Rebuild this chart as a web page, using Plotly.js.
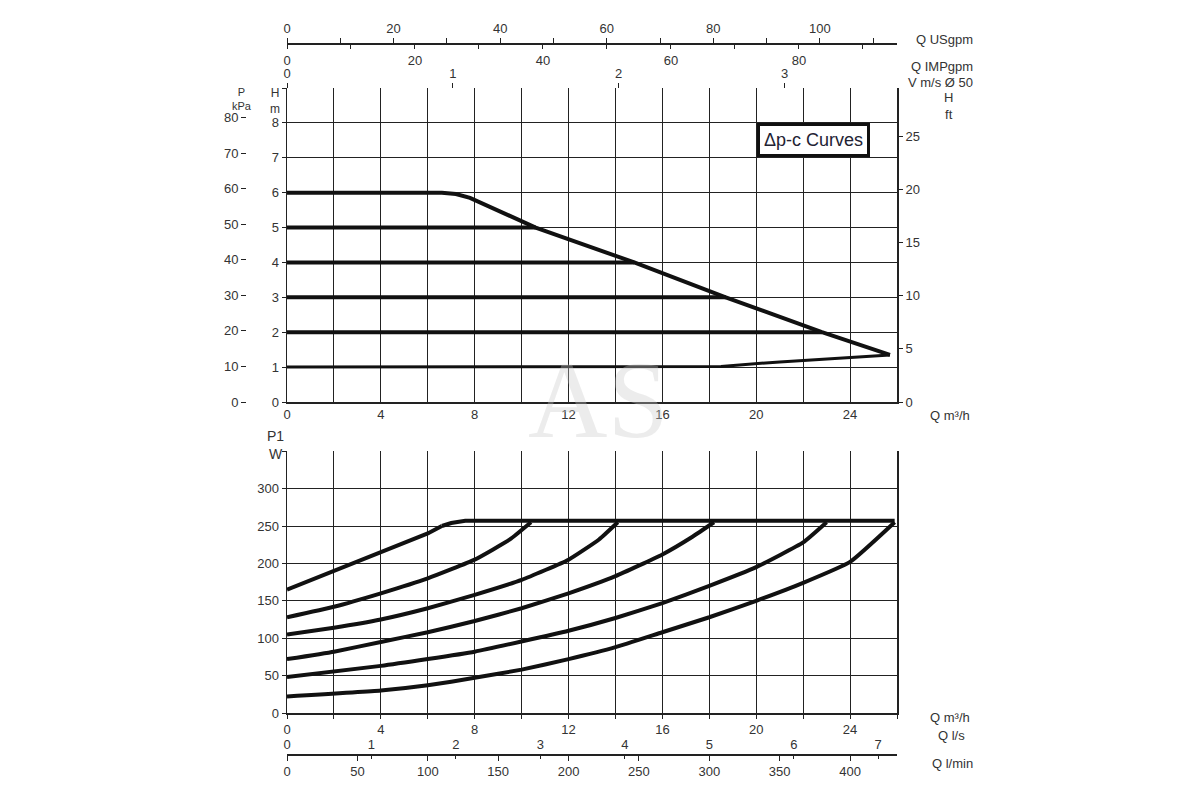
<!DOCTYPE html>
<html><head><meta charset="utf-8">
<script src="https://cdn.plot.ly/plotly-3.0.1.min.js"></script>
<style>body{margin:0;background:#fff}</style></head>
<body><div id="c" style="width:1200px;height:800px"></div>
<script>
// ---- data ----
const qGrid = [0,2,4,6,8,10,12,14,16,18,20,22,24,26];
const qLabels = ['0','','4','','8','','12','','16','','20','','24',''];
// Head curves (Q m3/h, H m)
const hMaxQ = [0, 6.6, 7.2, 7.8, 10.6, 14.8, 18.7, 22.8, 25.7];
const hMaxH = [6, 6, 5.96, 5.85, 5, 4, 3, 2, 1.35];
const h5Q = [0, 10.6], h5H = [5, 5];
const h4Q = [0, 14.8], h4H = [4, 4];
const h3Q = [0, 18.7], h3H = [3, 3];
const h2Q = [0, 22.8], h2H = [2, 2];
const hMinQ = [0, 17.2, 18.5, 21, 25.7], hMinH = [1, 1, 1.02, 1.15, 1.35];
// Power curves (Q m3/h, P1 W)
const pMaxQ = [6.6, 7.0, 7.6, 25.9], pMaxP = [250, 254, 257, 257];
const p1Q = [0, 2, 4, 6, 6.6], p1P = [165, 190, 215, 240, 250];
const p2Q = [0, 2, 4, 6, 8, 9.5, 10.4], p2P = [128, 142, 160, 180, 205, 232, 255];
const p3Q = [0, 2, 4, 6, 8, 10, 12, 13.3, 14.1], p3P = [105, 114, 125, 140, 158, 178, 205, 232, 255];
const p4Q = [0, 2, 4, 6, 8, 10, 12, 14, 16, 17.3, 18.2], p4P = [72, 82, 95, 108, 123, 140, 160, 183, 212, 236, 255];
const p5Q = [0, 4, 8, 12, 14, 16, 18, 20, 22, 23], p5P = [48, 63, 82, 110, 127, 147, 170, 195, 228, 255];
const p6Q = [0, 4, 6, 8, 10, 12, 14, 16, 18, 20, 22, 24, 25.9], p6P = [22, 30, 37, 47, 58, 72, 88, 108, 128, 150, 174, 202, 255];
const hGrid = [0,1,2,3,4,5,6,7,8,9];
const hLabels = ['0','1','2','3','4','5','6','7','8',''];
const kpaTicks = [0,10,20,30,40,50,60,70,80];
const ftTicks = [0,5,10,15,20,25];
const wGrid = [0,50,100,150,200,250,300,350];
const wLabels = ['0','50','100','150','200','250','300',''];
const usTicks = [0,10,20,30,40,50,60,70,80,90,100,110];
const usLabels = ['0','','20','','40','','60','','80','','100',''];
const impTicks = [0,10,20,30,40,50,60,70,80,90];
const impLabels = ['0','','20','','40','','60','','80',''];
const vTicks = [0,1,2,3];
const lsTicks = [0,1,2,3,4,5,6,7];
const lminTicks = [0,50,100,150,200,250,300,350,400];

const QMAX = 26;
const fnt = {family:'Liberation Sans, Arial', size:13, color:'#333'};
const dTop = [0.89, 0.4975], dBot=[0.436,0.10875];
const xd = [287/1200, 897/1200];

function ln(x,y,xa,ya,w,sm){return {x:x,y:y,xaxis:xa,yaxis:ya,mode:'lines',line:{color:'#111',width:w||4,shape:sm?'spline':'linear',smoothing:sm||0},hoverinfo:'skip'};}
function dummy(xa,ya){return {x:[0],y:[0],xaxis:xa,yaxis:ya,mode:'markers',marker:{opacity:0},hoverinfo:'skip'};}
const data = [
 ln(hMaxQ,hMaxH,'x','y'), ln(h5Q,h5H,'x','y'), ln(h4Q,h4H,'x','y'), ln(h3Q,h3H,'x','y'), ln(h2Q,h2H,'x','y'), ln(hMinQ,hMinH,'x','y',3),
 ln(pMaxQ,pMaxP,'x2','y4'), ln(p1Q,p1P,'x2','y4'), ln(p2Q,p2P,'x2','y4',4,0.4), ln(p3Q,p3P,'x2','y4',4,0.4), ln(p4Q,p4P,'x2','y4',4,0.4), ln(p5Q,p5P,'x2','y4',4,0.4), ln(p6Q,p6P,'x2','y4',4,0.4),
 dummy('x3','y'), dummy('x4','y'), dummy('x5','y'), dummy('x6','y4'), dummy('x7','y4'), dummy('x','y2'), dummy('x','y3')
];
const gridAx = {showgrid:true, gridcolor:'#222', gridwidth:1, zeroline:false, showline:true, linecolor:'#222', linewidth:1.5, ticks:'outside', ticklen:4, tickcolor:'#222', tickfont:fnt, fixedrange:true};
const freeX = (range,vals,text,side,pos,ov,line)=>({overlaying:ov, anchor:'free', position:pos, side:side, range:range, tickmode:'array', tickvals:vals, ticktext:text||vals.map(String), showgrid:false, zeroline:false, showline:line, linecolor:'#222', linewidth:1.5, ticks:'outside', ticklen:5, tickcolor:'#222', tickfont:fnt, fixedrange:true, domain:xd});
const layout = {
 width:1200, height:800, margin:{l:0,r:0,t:0,b:0}, showlegend:false, paper_bgcolor:'#fff', plot_bgcolor:'#fff',
 xaxis: Object.assign({}, gridAx, {domain:xd, anchor:'y', range:[0,QMAX], tickmode:'array', tickvals:qGrid, ticktext:qLabels, ticks:''}),
 yaxis: Object.assign({}, gridAx, {domain:[dTop[1],dTop[0]], anchor:'x', range:[0,9], tickmode:'array', tickvals:hGrid, ticktext:hLabels, mirror:true}),
 yaxis2: {overlaying:'y', anchor:'free', position:0.205, side:'left', range:[0,9*9.81], tickmode:'array', tickvals:kpaTicks, showgrid:false, zeroline:false, showline:false, ticks:'outside', ticklen:5, tickcolor:'#222', tickfont:fnt, fixedrange:true},
 yaxis3: {overlaying:'y', anchor:'x', side:'right', range:[0,9/0.3048], tickmode:'array', tickvals:ftTicks, showgrid:false, zeroline:false, showline:false, ticks:'outside', ticklen:5, tickcolor:'#222', tickfont:fnt, fixedrange:true},
 xaxis2: Object.assign({}, gridAx, {domain:xd, anchor:'y4', range:[0,QMAX], tickmode:'array', tickvals:qGrid, ticktext:qLabels}),
 yaxis4: Object.assign({}, gridAx, {domain:[dBot[1],dBot[0]], anchor:'x2', range:[0,350], tickmode:'array', tickvals:wGrid, ticktext:wLabels, mirror:true}),
 xaxis3: freeX([0,QMAX/0.2271247],usTicks,usLabels,'top',0.946,'x',true),
 xaxis4: freeX([0,QMAX/0.2727655],impTicks,impLabels,'bottom',0.946,'x',false),
 xaxis5: freeX([0,QMAX/(3600*Math.PI*0.025*0.025)],vTicks,null,'top',dTop[0],'x',false),
 xaxis6: freeX([0,QMAX/3.6],lsTicks,null,'top',0.051,'x2',false),
 xaxis7: freeX([0,QMAX/0.06],lminTicks,null,'bottom',0.0575,'x2',true),
 annotations: [
  {xref:'paper',yref:'paper',x:975/1200,y:1-30/800,text:'Q USgpm',showarrow:false,xanchor:'right',font:fnt},
  {xref:'paper',yref:'paper',x:975/1200,y:1-57/800,text:'Q IMPgpm',showarrow:false,xanchor:'right',font:fnt},
  {xref:'paper',yref:'paper',x:975/1200,y:1-73/800,text:'V m/s Ø 50',showarrow:false,xanchor:'right',font:fnt},
  {xref:'paper',yref:'paper',x:972/1200,y:1-415/800,text:'Q m³/h',showarrow:false,xanchor:'right',font:fnt},
  {xref:'paper',yref:'paper',x:972/1200,y:1-727/800,text:'Q m³/h',showarrow:false,xanchor:'right',font:fnt},
  {xref:'paper',yref:'paper',x:967/1200,y:1-745/800,text:'Q l/s',showarrow:false,xanchor:'right',font:fnt},
  {xref:'paper',yref:'paper',x:975/1200,y:1-773/800,text:'Q l/min',showarrow:false,xanchor:'right',font:fnt},
  {xref:'paper',yref:'paper',x:230/1200,y:1-84/800,yanchor:'top',text:'P<br>kPa',showarrow:false,font:Object.assign({},fnt,{size:11}),align:'center'},
  {xref:'paper',yref:'paper',x:268/1200,y:1-84/800,yanchor:'top',text:'H<br>m',showarrow:false,font:Object.assign({},fnt,{size:12}),align:'center'},
  {xref:'paper',yref:'paper',x:955/1200,y:1-88/800,yanchor:'top',text:'H<br>ft',showarrow:false,font:fnt,align:'center'},
  {xref:'paper',yref:'paper',x:265/1200,y:1-426/800,yanchor:'top',text:'P1<br>W',showarrow:false,font:Object.assign({},fnt,{size:14}),align:'center'},
  {xref:'paper',yref:'paper',x:870/1200,y:1-123/800,text:'Δp-c Curves',showarrow:false,font:{family:'Liberation Sans Narrow, Arial',size:18,color:'#223'},bgcolor:'#fff',bordercolor:'#111',borderwidth:3,borderpad:4},
  {xref:'paper',yref:'paper',x:598/1200,y:1-400/800,text:'AS',showarrow:false,font:{family:'Liberation Serif',size:110,color:'rgba(200,200,200,0.35)'}}
 ]
};
Plotly.newPlot('c', data, layout, {staticPlot:true});
</script></body></html>
